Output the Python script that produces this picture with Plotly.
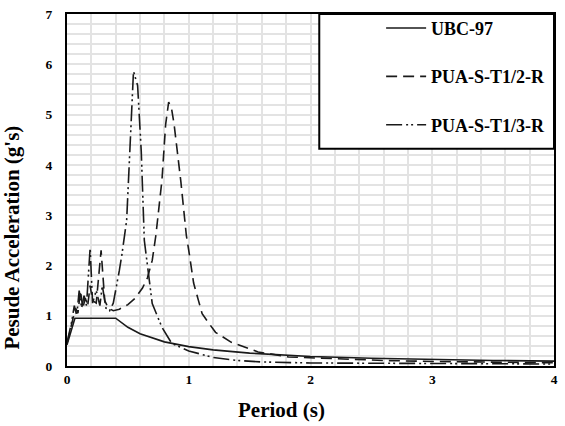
import plotly.graph_objects as go

# UBC-97 design spectrum
ubc_T = [0.0, 0.065, 0.40, 0.5, 0.6, 0.8, 1.0, 1.2, 1.5, 2.0, 2.5, 3.0, 3.5, 4.0]
ubc_v = [0.42, 0.95, 0.95, 0.77, 0.64, 0.48, 0.385, 0.32, 0.256, 0.19, 0.154, 0.128, 0.11, 0.096]

# PUA-S-T1/2-R
t12_T = [0.0, 0.04, 0.07, 0.09, 0.11, 0.13, 0.15, 0.17, 0.19, 0.21, 0.24, 0.28, 0.31, 0.34,
         0.38, 0.43, 0.5, 0.56, 0.62, 0.66, 0.70, 0.73, 0.78, 0.81, 0.835, 0.86, 0.88, 0.935, 0.98,
         1.0, 1.04, 1.08, 1.11, 1.165, 1.22, 1.35, 1.57, 1.82, 2.22, 2.6, 3.0, 3.5, 4.0]
t12_v = [0.45, 0.85, 1.15, 1.05, 1.5, 1.15, 1.35, 1.2, 1.6, 1.3, 1.25, 2.3, 1.3, 1.15,
         1.1, 1.13, 1.22, 1.35, 1.55, 1.75, 2.1, 2.6, 3.7, 4.8, 5.25, 5.1, 4.8, 3.67, 2.6,
         2.3, 1.65, 1.3, 1.04, 0.85, 0.67, 0.47, 0.28, 0.18, 0.14, 0.11, 0.09, 0.075, 0.065]

# PUA-S-T1/3-R
t13_T = [0.0, 0.04, 0.06, 0.08, 0.10, 0.12, 0.14, 0.16, 0.19, 0.21, 0.24, 0.27, 0.29, 0.32,
         0.35, 0.38, 0.43, 0.45, 0.49, 0.52, 0.546, 0.58, 0.61, 0.635, 0.70, 0.78, 0.86,
         1.0, 1.2, 1.4, 1.6, 2.0, 2.5, 3.0, 3.5, 4.0]
t13_v = [0.45, 0.9, 1.2, 1.0, 1.5, 1.15, 1.4, 1.2, 2.35, 1.25, 1.5, 1.2, 1.6, 1.15,
         1.1, 1.25, 1.9, 2.2, 2.9, 4.5, 5.86, 5.58, 4.26, 2.5, 1.24, 0.77, 0.45,
         0.3, 0.17, 0.11, 0.08, 0.06, 0.055, 0.05, 0.045, 0.04]

names = ["UBC-97", "PUA-S-T1/2-R", "PUA-S-T1/3-R"]
dashes = ["solid", "11px,6px", "16px,4px,2px,3px,2px,4px"]
FONT = "Liberation Serif"

fig = go.Figure()
for i, (T, v) in enumerate([(ubc_T, ubc_v), (t12_T, t12_v), (t13_T, t13_v)]):
    fig.add_trace(go.Scatter(
        x=T, y=v, mode="lines", name=names[i], legendgroup=names[i],
        line=dict(color="#1a1a1a", width=1.6, dash=dashes[i]),
    ))

axis_common = dict(
    showline=True, linecolor="black", linewidth=2, mirror=True,
    showgrid=True, gridcolor="#e3e3e3", gridwidth=1.5,
    zeroline=False, ticks="",
    tickfont=dict(family=FONT, size=13.5, color="black", weight="bold"),
    minor=dict(dtick=0.2, showgrid=True, gridcolor="#e3e3e3", gridwidth=1.5),
)

fig.update_xaxes(range=[0, 4], dtick=1, tick0=0, **axis_common)
fig.update_yaxes(range=[0, 7], dtick=1, tick0=0, ticklabelstandoff=10, **axis_common)

title_font = dict(family=FONT, size=21, color="black", weight="bold")
fig.update_layout(
    width=565, height=426,
    margin=dict(l=67, r=7, t=11, b=60),
    paper_bgcolor="white", plot_bgcolor="white",
    showlegend=True,
    legend=dict(
        x=0.645, y=1.012, xanchor="left", yanchor="top",
        bgcolor="rgba(0,0,0,0)", borderwidth=0,
        font=dict(family=FONT, size=18, color="black", weight="bold"),
        tracegroupgap=22, itemwidth=40,
    ),
    shapes=[dict(type="rect", xref="paper", yref="paper",
                 x0=0.518, x1=1.0, y0=0.617, y1=1.0,
                 line=dict(color="black", width=2), fillcolor="white", layer="above")],
    annotations=[
        dict(text="Period (s)", xref="paper", yref="paper", x=0.44, y=-0.124,
             xanchor="center", yanchor="middle", showarrow=False, font=title_font),
        dict(text="Pesude Acceleration (g's)", xref="paper", yref="paper", x=-0.112, y=0.366,
             xanchor="center", yanchor="middle", showarrow=False, textangle=-90, font=title_font),
    ],
)

fig.write_html("out.html")
